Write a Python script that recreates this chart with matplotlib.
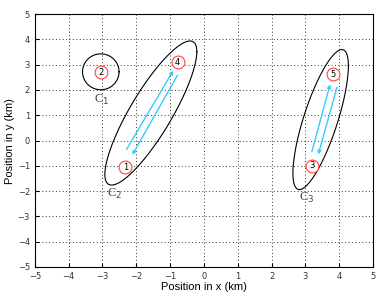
import numpy as np
import matplotlib
matplotlib.use('Agg')
from matplotlib import pyplot as plt

# node positions (km)
node_ids = ['1', '2', '3', '4', '5']
node_x = [-2.32, -3.05, 3.19, -0.78, 3.83]
node_y = [-1.05, 2.7, -1.0, 3.09, 2.62]

# cluster outlines: center, x half-extent, y half-extent, phase lag (deg)
cluster_names = ['C$_1$', 'C$_2$', 'C$_3$']
cluster_cx = [-3.05, -1.57, 3.45]
cluster_cy = [2.72, 1.09, 0.83]
cluster_rx = [0.54, 1.36, 0.82]
cluster_ry = [0.71, 2.85, 2.77]
cluster_lag = [90, 31.5, 40]
label_x = [-3.03, -2.63, 3.04]
label_y = [1.6, -2.1, -2.28]

# movement arrows (start -> end)
arrow_x0 = [-2.29, -0.78, 3.19, 3.93]
arrow_y0 = [-0.35, 2.59, -0.44, 2.10]
arrow_x1 = [-0.91, -2.12, 3.73, 3.38]
arrow_y1 = [2.76, -0.57, 2.22, -0.55]

fig = plt.figure(figsize=(3.87, 3.01), dpi=100)
ax = fig.add_axes([0.09, 0.113, 0.874, 0.84])

t = np.linspace(0, 2 * np.pi, 300)
for i in range(len(cluster_names)):
    d = np.radians(cluster_lag[i])
    ex = cluster_cx[i] + cluster_rx[i] * np.cos(t)
    ey = cluster_cy[i] + cluster_ry[i] * np.cos(t - d)
    ax.plot(ex, ey, color='black', linewidth=0.8)
    ax.text(label_x[i], label_y[i], cluster_names[i], family='Liberation Serif',
            fontsize=9, color='#444444', ha='center', va='center')

for i in range(len(arrow_x0)):
    ax.annotate('', xy=(arrow_x1[i], arrow_y1[i]), xytext=(arrow_x0[i], arrow_y0[i]),
                arrowprops=dict(arrowstyle='-|>', color='#33ccff', lw=1.0,
                                shrinkA=0, shrinkB=0, mutation_scale=5))

ax.scatter(node_x, node_y, s=85, facecolors='white', edgecolors='#ff4444', linewidths=0.8, zorder=3)
for i in range(len(node_ids)):
    ax.text(node_x[i], node_y[i], node_ids[i], fontsize=6, ha='center', va='center', zorder=4)

ax.set_xlim(-5, 5)
ax.set_ylim(-5, 5)
ax.set_xticks(range(-5, 6))
ax.set_yticks(range(-5, 6))
ax.grid(True, linestyle=(0, (1, 2.5)), color='#333333', linewidth=0.7)
ax.tick_params(direction='in', labelsize=6, length=3, labelcolor='#333333')
for s in ax.spines.values():
    s.set_linewidth(0.8)
ax.set_xlabel('Position in x (km)', fontsize=8, family='Liberation Sans', labelpad=1)
ax.set_ylabel('Position in y (km)', fontsize=8, family='Liberation Sans', labelpad=2)

fig.savefig('out.png', dpi=100)
